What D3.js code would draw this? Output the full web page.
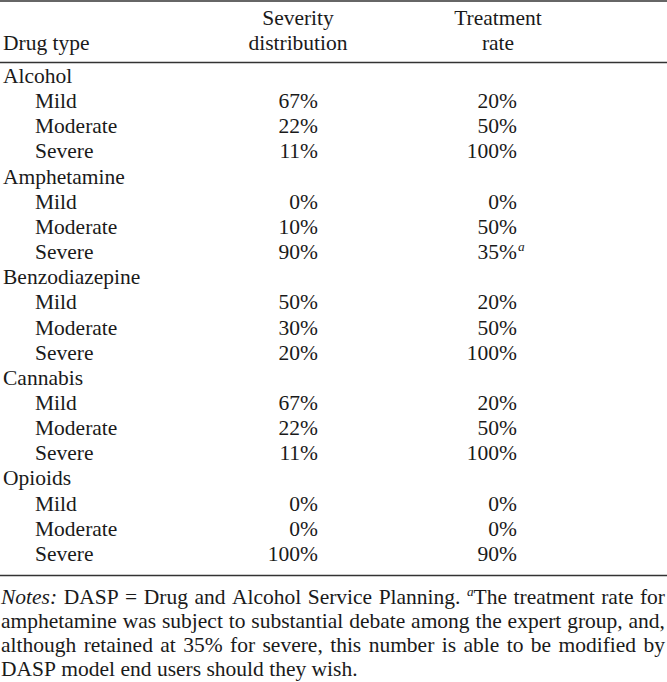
<!DOCTYPE html>
<html>
<head>
<meta charset="utf-8">
<script src="https://cdn.jsdelivr.net/npm/d3@7"></script>
<style>
  html, body { margin: 0; padding: 0; background: #fff; }
  svg text { font-family: "Liberation Serif", "Times New Roman", Times, serif; fill: #1a1a1a; }
</style>
</head>
<body>
<svg id="chart" width="667" height="682"></svg>
<script>
// ---- data ----
const drugTypes = ["Alcohol", "Amphetamine", "Benzodiazepine", "Cannabis", "Opioids"];
const severityLevels = ["Mild", "Moderate", "Severe"];
const severityDistribution = [
  [67, 22, 11],
  [0, 10, 90],
  [50, 30, 20],
  [67, 22, 11],
  [0, 0, 100]
];
const treatmentRate = [
  [20, 50, 100],
  [0, 50, 35],
  [20, 50, 100],
  [20, 50, 100],
  [0, 0, 90]
];
const treatmentMarks = [
  ["", "", ""],
  ["", "", "a"],
  ["", "", ""],
  ["", "", ""],
  ["", "", ""]
];
const columnHeaders = [["Severity", "distribution"], ["Treatment", "rate"]];
const firstHeader = "Drug type";
const notesLines = [
  "*Notes:* DASP = Drug and Alcohol Service Planning. ^a^The treatment rate for",
  "amphetamine was subject to substantial debate among the expert group, and,",
  "although retained at 35% for severe, this number is able to be modified by",
  "DASP model end users should they wish."
];

// ---- layout ----
const W = 667, FS = 21.5;
const svg = d3.select("#chart");

const rows = [];
drugTypes.forEach((d, i) => {
  rows.push({ label: d, group: true });
  severityLevels.forEach((s, j) => rows.push({
    label: s, group: false,
    sev: severityDistribution[i][j], trt: treatmentRate[i][j], mark: treatmentMarks[i][j]
  }));
});

const y = d3.scaleLinear().domain([0, rows.length - 1]).range([83, 83 + 25.15 * (rows.length - 1)]);
const colX = d3.scaleOrdinal().domain(["label", "indent", "sev", "trt"]).range([3, 35, 318, 517]);
const headerCenter = d3.scaleOrdinal().domain([0, 1]).range([298, 498]);
const pct = v => d3.format("d")(v) + "%";

// rules
const rule = (yy) => svg.append("line").attr("x1", 0).attr("x2", W).attr("y1", yy).attr("y2", yy)
  .attr("stroke", "#333").attr("stroke-width", 1.6);
rule(1);
rule(62.5);
rule(575.5);

// header
svg.append("text").attr("x", colX("label")).attr("y", 50).attr("font-size", FS).text(firstHeader);
columnHeaders.forEach((h, i) => {
  h.forEach((line, k) => {
    svg.append("text").attr("x", headerCenter(i)).attr("y", 25 + 25 * k)
      .attr("text-anchor", "middle").attr("font-size", FS).text(line);
  });
});

// body
const g = svg.append("g");
rows.forEach((r, i) => {
  g.append("text").attr("x", r.group ? colX("label") : colX("indent")).attr("y", y(i))
    .attr("font-size", FS).text(r.label);
  if (!r.group) {
    g.append("text").attr("x", colX("sev")).attr("y", y(i)).attr("text-anchor", "end")
      .attr("font-size", FS).text(pct(r.sev));
    g.append("text").attr("x", colX("trt")).attr("y", y(i)).attr("text-anchor", "end")
      .attr("font-size", FS).text(pct(r.trt));
    if (r.mark) {
      g.append("text").attr("x", colX("trt") + 1).attr("y", y(i) - 8)
        .attr("font-size", FS * 0.62).attr("font-style", "italic").text(r.mark);
    }
  }
});

// notes (justified)
function parseWord(w) {
  const segs = [];
  const re = /(\*[^*]+\*|\^[^^]+\^|[^*^]+)/g;
  let m;
  while ((m = re.exec(w)) !== null) {
    const s = m[0];
    if (s[0] === "*") segs.push({ t: s.slice(1, -1), italic: true });
    else if (s[0] === "^") segs.push({ t: s.slice(1, -1), italic: true, sup: true });
    else segs.push({ t: s });
  }
  return segs;
}
const noteY = d3.scaleLinear().domain([0, notesLines.length - 1]).range([604, 676]);
const xL = 1, xR = 665;
notesLines.forEach((line, li) => {
  const words = line.split(" ");
  const nodes = words.map(w => {
    const t = svg.append("text").attr("y", noteY(li)).attr("font-size", FS);
    parseWord(w).forEach((s, k, arr) => {
      const ts = t.append("tspan").text(s.t);
      if (s.italic) ts.attr("font-style", "italic");
      if (s.sup) ts.attr("font-size", FS * 0.62).attr("dy", -8);
      else if (k > 0 && arr[k - 1].sup) ts.attr("dy", 8);
    });
    return t;
  });
  const widths = nodes.map(n => n.node().getComputedTextLength());
  const total = d3.sum(widths);
  const last = li === notesLines.length - 1;
  const gap = last ? FS * 0.25 : (xR - xL - total) / (words.length - 1);
  let x = xL;
  nodes.forEach((n, k) => { n.attr("x", x); x += widths[k] + gap; });
});
</script>
</body>
</html>
